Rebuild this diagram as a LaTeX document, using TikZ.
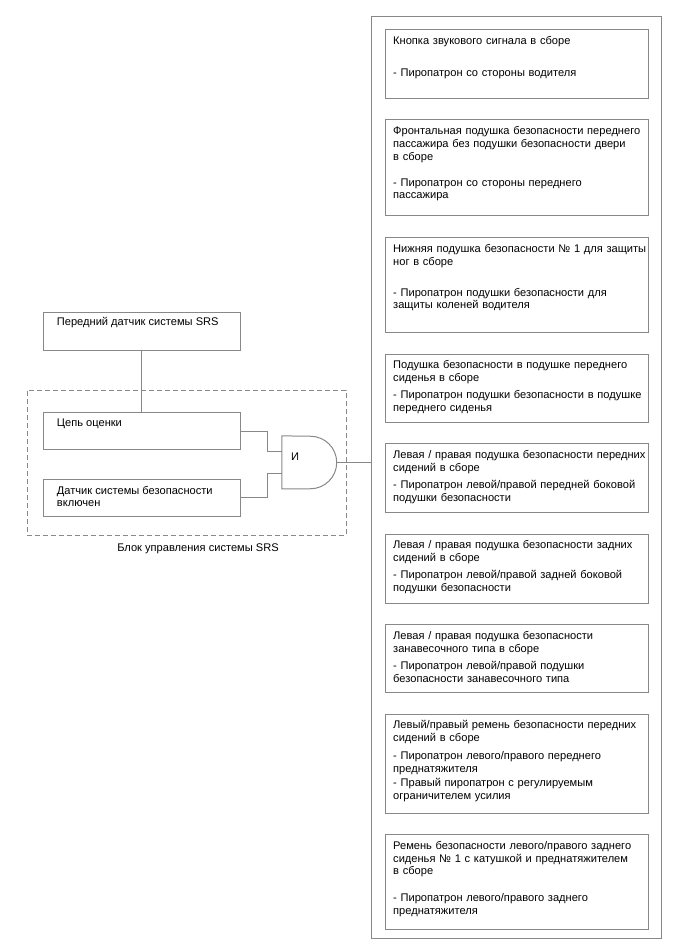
\documentclass[tikz,border=0pt]{standalone}
\usepackage{fontspec}
\setmainfont{Liberation Sans}
\usepackage{xcolor}
\usepackage{tikz}
\usetikzlibrary{positioning}

\definecolor{edgegray}{HTML}{888888}

\begin{document}
\begin{tikzpicture}[
    x=1pt, y=-1pt,
    node distance=20.5pt,
    font=\fontsize{11.1}{12.7}\selectfont,
    part/.style={draw=edgegray, line width=1pt, minimum width=263pt, inner sep=0pt, anchor=north west},
    note/.style={anchor=north west, align=left, inner xsep=8pt, inner ysep=7pt, text width=262pt},
    unit/.style={draw=edgegray, line width=1pt, minimum width=197pt, minimum height=37pt, inner sep=0pt},
    unitnote/.style={anchor=north west, align=left, inner xsep=14pt, inner ysep=7pt},
    wire/.style={draw=edgegray, line width=1pt}
]
\useasboundingbox (0,0) rectangle (688,949);

% SRS control unit
\node[draw=edgegray, line width=1pt, dash pattern=on 5pt off 3pt, minimum width=319pt,
      minimum height=145pt, inner sep=0pt] (ecu) at (186.5,462.5) {};
\node[below=5pt of ecu, xshift=11.5pt] (ecucap) {Блок управления системы SRS};

\node[unit, anchor=north west, minimum height=38pt] (frontsensor) at (42.7,312) {};
\node[unit, below=61pt of frontsensor]  (evalcirc)   {};
\node[unit, below=28.7pt of evalcirc]   (switchsens) {};
\node[unitnote, inner ysep=5.5pt] (frontsensor-t) at (frontsensor.north west) {Передний датчик системы SRS};
\node[unitnote] (evalcirc-t)   at (evalcirc.north west)   {Цепь оценки};
\node[unitnote] (switchsens-t) at (switchsens.north west) {Датчик системы безопасности\\включен};

% AND gate
\node[minimum width=54.5pt, minimum height=52.5pt, inner sep=0pt] (gate) at (309.25,462.3) {};
\draw[wire] (gate.north west) -- (gate.south west) -- ([xshift=-26.25pt]gate.south east)
    arc[start angle=-90, end angle=90, radius=26.25pt] -- cycle;
\node[anchor=west, inner sep=0pt] (gatelbl) at ([xshift=9pt, yshift=6pt]gate.west) {И};

% squibs
\node[draw=edgegray, line width=1pt, minimum width=290pt, minimum height=922pt,
      inner sep=0pt, anchor=north west] (rack) at (371,16) {};
\node[part, minimum height=69pt]              (horn)      at (385,29) {};
\node[part, minimum height=96pt, below=of horn]      (passfront) {};
\node[part, minimum height=95pt, below=of passfront] (knee)      {};
\node[part, minimum height=68pt, below=of knee]      (cushion)   {};
\node[part, minimum height=69pt, below=of cushion]   (sidefront) {};
\node[part, minimum height=69pt, below=of sidefront] (siderear)  {};
\node[part, minimum height=68pt, below=of siderear]  (curtain)   {};
\node[part, minimum height=99pt, below=of curtain]   (beltfront) {};
\node[part, minimum height=95pt, below=of beltfront] (beltrear)  {};

\node[note] (horn-t) at (horn.north west)
    {Кнопка звукового сигнала в сборе\\[19pt]- Пиропатрон со стороны водителя};
\node[note] (passfront-t) at (passfront.north west)
    {Фронтальная подушка безопасности переднего\\пассажира без подушки безопасности двери\\в сборе\\[13.3pt]- Пиропатрон со стороны переднего\\пассажира};
\node[note] (knee-t) at (knee.north west)
    {Нижняя подушка безопасности № 1 для защиты\\ног в сборе\\[18.3pt]- Пиропатрон подушки безопасности для\\защиты коленей водителя};
\node[note] (cushion-t) at (cushion.north west)
    {Подушка безопасности в подушке переднего\\сиденья в сборе\\[4.7pt]- Пиропатрон подушки безопасности в подушке\\переднего сиденья};
\node[note] (sidefront-t) at (sidefront.north west)
    {Левая / правая подушка безопасности передних\\сидений в сборе\\[4.7pt]- Пиропатрон левой/правой передней боковой\\подушки безопасности};
\node[note] (siderear-t) at (siderear.north west)
    {Левая / правая подушка безопасности задних\\сидений в сборе\\[4.7pt]- Пиропатрон левой/правой задней боковой\\подушки безопасности};
\node[note] (curtain-t) at (curtain.north west)
    {Левая / правая подушка безопасности\\занавесочного типа в сборе\\[4.7pt]- Пиропатрон левой/правой подушки\\безопасности занавесочного типа};
\node[note] (beltfront-t) at (beltfront.north west)
    {Левый/правый ремень безопасности передних\\сидений в сборе\\[5pt]- Пиропатрон левого/правого переднего\\преднатяжителя\\[1.7pt]- Правый пиропатрон с регулируемым\\ограничителем усилия};
\node[note] (beltrear-t) at (beltrear.north west)
    {Ремень безопасности левого/правого заднего\\сиденья № 1 с катушкой и преднатяжителем\\в сборе\\[14pt]- Пиропатрон левого/правого заднего\\преднатяжителя};

% connections
\draw[wire] (frontsensor.south) -- (evalcirc.north);
\draw[wire] (evalcirc.east) -- ++(26.5,0) |- ([yshift=10.8pt]gate.west);
\draw[wire] (switchsens.east) -- ++(26.5,0) |- ([yshift=-10.8pt]gate.west);
\draw[wire] (gate.east) -- (gate.east -| rack.west);
\end{tikzpicture}
\end{document}
